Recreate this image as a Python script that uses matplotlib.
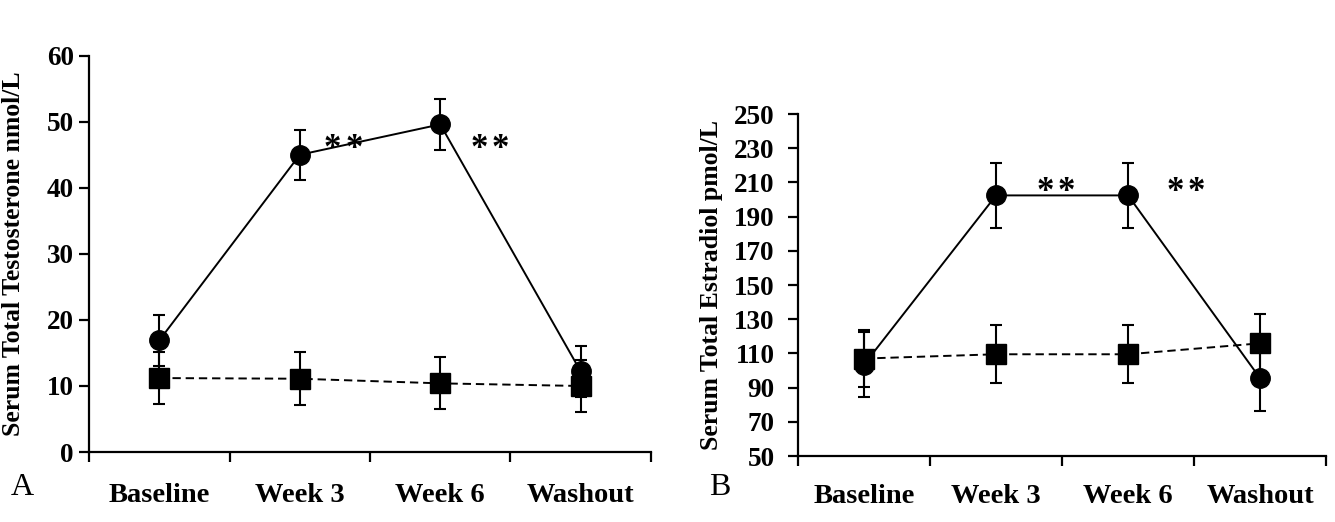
import matplotlib
matplotlib.use("Agg")
import matplotlib.pyplot as plt
from matplotlib.transforms import offset_copy

plt.rcParams['font.family'] = ['Liberation Serif', 'DejaVu Serif']
plt.rcParams['lines.scale_dashes'] = False

categories = ["Baseline", "Week 3", "Week 6", "Washout"]

# Panel A: Serum total testosterone (nmol/L)
a_circle = [16.9, 45.0, 49.6, 12.2]
a_circle_err = [3.8, 3.8, 3.8, 3.8]
a_square = [11.2, 11.1, 10.4, 10.0]
a_square_err = [3.9, 4.0, 3.95, 3.9]
a_yticks = [0, 10, 20, 30, 40, 50, 60]
a_stars = [(1.31, 47.0), (2.35, 47.0)]

# Panel B: Serum total estradiol (pmol/L)
b_circle = [103.5, 202.4, 202.4, 95.5]
b_circle_err = [19.0, 19.0, 19.0, 19.4]
b_square = [107.0, 109.5, 109.5, 115.9]
b_square_err = [16.5, 17.0, 17.0, 17.0]
b_yticks = [50, 70, 90, 110, 130, 150, 170, 190, 210, 230, 250]
b_stars = [(1.455, 208.6), (2.44, 208.6)]

fig = plt.figure(figsize=(13.35, 5.22), dpi=100)
axA = fig.add_axes([0.0667, 0.134, 0.4209, 0.7593])
axB = fig.add_axes([0.5978, 0.1264, 0.3955, 0.6552])

STAR_FS = 25


def draw(ax, circ, cerr, sq, serr, yticks, stars, ylabel, label_pad, ytick_pad, ylab_x):
    x = list(range(len(categories)))
    ax.errorbar(x, sq, yerr=serr, fmt='s', color='black', ms=14.5,
                linestyle=(0, (6, 3.5)), lw=1.4, elinewidth=1.5, capsize=4,
                capthick=1.5, zorder=3)
    ax.errorbar(x, circ, yerr=cerr, fmt='o', color='black', ms=14,
                linestyle='-', lw=1.4, elinewidth=1.5, capsize=4,
                capthick=1.5, zorder=4)
    ax.set_xlim(-0.5, len(categories) - 0.5)
    ax.set_ylim(yticks[0], yticks[-1])
    ax.set_yticks(yticks)
    ax.set_yticklabels([str(t) for t in yticks], fontsize=19.5, fontweight='bold')
    ax.set_xticks([i - 0.5 for i in range(len(categories) + 1)])
    ax.set_xticklabels([])
    ax.set_xticks(x, minor=True)
    ax.set_xticklabels(categories, minor=True, fontsize=20.5, fontweight='bold')
    ax.tick_params(axis='x', which='minor', length=0, pad=label_pad)
    ax.tick_params(axis='x', which='major', direction='out', length=7, width=1.6)
    ax.tick_params(axis='y', direction='out', length=7, width=1.6, pad=ytick_pad)
    for s in ['top', 'right']:
        ax.spines[s].set_visible(False)
    for s in ['left', 'bottom']:
        ax.spines[s].set_linewidth(1.6)
    ax.set_ylabel(ylabel, fontsize=18.5, fontweight='bold')
    ax.yaxis.set_label_coords(ylab_x, 0.5)
    for (sx, sy) in stars:
        for dx in (-7.6, 7.6):
            tr = offset_copy(ax.transData, fig=fig, x=dx, y=-0.46 * STAR_FS,
                             units='points')
            ax.text(sx, sy, "*", transform=tr, fontsize=STAR_FS,
                    fontweight='bold', ha='center', va='baseline')


draw(axA, a_circle, a_circle_err, a_square, a_square_err, a_yticks, a_stars,
     "Serum Total Testosterone nmol/L", 22.5, 4, -0.114)
draw(axB, b_circle, b_circle_err, b_square, b_square_err, b_yticks, b_stars,
     "Serum Total Estradiol pmol/L", 20, 10, -0.142)

fig.text(0.0165, 0.052, "A", fontsize=23, ha='center', va='baseline')
fig.text(0.539, 0.052, "B", fontsize=23, ha='center', va='baseline')

fig.savefig("out.png", dpi=100)
